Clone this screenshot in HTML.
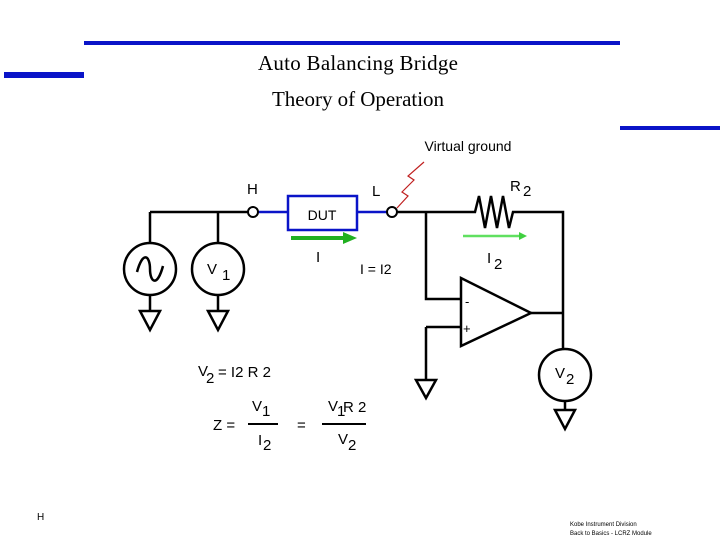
<!DOCTYPE html>
<html><head><meta charset="utf-8"><style>
body{margin:0;width:720px;height:540px;background:#fff;overflow:hidden}
svg{display:block}
.s{font-family:"Liberation Sans",sans-serif;fill:#000}
.t{font-family:"Liberation Serif",serif;fill:#000}
</style></head><body>
<svg width="720" height="540" viewBox="0 0 720 540" xmlns="http://www.w3.org/2000/svg">
<rect x="84" y="41" width="536" height="4" fill="#0a14c8"/>
<rect x="4" y="72" width="80" height="6" fill="#0a14c8"/>
<rect x="620" y="126" width="100" height="4" fill="#0a14c8"/>
<text x="358" y="70" class="t" font-size="21" text-anchor="middle" textLength="200">Auto Balancing Bridge</text>
<text x="358" y="106" class="t" font-size="21" text-anchor="middle" textLength="172">Theory of Operation</text>
<text x="468" y="151" class="s" font-size="14" text-anchor="middle">Virtual ground</text>

<g fill="none" stroke="#000" stroke-width="2.5">
<path d="M150 212H248M150 212V243M218 212V243"/>
<path d="M397 212H475L479 196L485 228L491 196L497 228L503 196L509 228L513 212H563V350"/>
<path d="M426 212V299H461M426 327H461M426 327V380M531 313H563"/>
<path d="M461 278V346L531 313Z"/>
<circle cx="150" cy="269" r="26"/>
<circle cx="218" cy="269" r="26"/>
<circle cx="565" cy="375" r="26"/>
<path d="M150 295V311M218 295V311M565 401V410"/>
<path d="M140 311H160L150 330Z M208 311H228L218 330Z M416 380H436L426 398Z M555 410H575L565 429Z"/>
<path d="M137 272C143 250 150 256 150 269C150 282 157 288 163 266"/>
</g>
<g fill="none" stroke="#0a14c8" stroke-width="2.5">
<path d="M258 212H288M357 212H387"/>
<rect x="288" y="196" width="69" height="34"/>
</g>
<circle cx="253" cy="212" r="5" fill="#fff" stroke="#000" stroke-width="2"/>
<circle cx="392" cy="212" r="5" fill="#fff" stroke="#000" stroke-width="2"/>
<path d="M397 208L408 196L402 192L414 180L408 176L424 162" fill="none" stroke="#c02020" stroke-width="1.2"/>
<path d="M291 238H345" stroke="#20b020" stroke-width="4"/>
<path d="M343 232L357 238L343 244Z" fill="#20b020"/>
<path d="M463 236H520" stroke="#60e060" stroke-width="2.5"/>
<path d="M519 232L527 236L519 240Z" fill="#40d040"/>
<text x="322" y="220" class="s" font-size="14" text-anchor="middle">DUT</text>
<text x="247" y="194" class="s" font-size="15">H</text>
<text x="372" y="196" class="s" font-size="15">L</text>
<text x="510" y="191" class="s" font-size="15">R</text><text x="523" y="196" class="s" font-size="15">2</text>
<text x="316" y="262" class="s" font-size="15">I</text>
<text x="360" y="274" class="s" font-size="14">I = I2</text>
<text x="487" y="263" class="s" font-size="15">I</text><text x="494" y="269" class="s" font-size="15">2</text>
<text x="207" y="274" class="s" font-size="15">V</text><text x="222" y="280" class="s" font-size="15">1</text>
<text x="555" y="378" class="s" font-size="15">V</text><text x="566" y="384" class="s" font-size="15">2</text>
<text x="465" y="306" class="s" font-size="13">-</text>
<text x="463" y="333" class="s" font-size="13">+</text>
<text x="198" y="376" class="s" font-size="15">V</text><text x="206" y="383" class="s" font-size="15">2</text>
<text x="218" y="377" class="s" font-size="15">= I2 R 2</text>
<text x="213" y="430" class="s" font-size="15">Z =</text>
<text x="252" y="411" class="s" font-size="15">V</text><text x="262" y="416" class="s" font-size="15">1</text>
<path d="M248 424H278M322 424H366" stroke="#000" stroke-width="2"/>
<text x="258" y="445" class="s" font-size="15">I</text><text x="263" y="450" class="s" font-size="15">2</text>
<text x="297" y="430" class="s" font-size="15">=</text>
<text x="328" y="411" class="s" font-size="15">V</text><text x="337" y="416" class="s" font-size="15">1</text>
<text x="343" y="412" class="s" font-size="15">R 2</text>
<text x="338" y="444" class="s" font-size="15">V</text><text x="348" y="450" class="s" font-size="15">2</text>
<text x="37" y="520" class="s" font-size="10">H</text>
<text x="570" y="526" class="s" font-size="6">Kobe Instrument Division</text>
<text x="570" y="535" class="s" font-size="6">Back to Basics  -  LCRZ Module</text>
</svg>
</body></html>
